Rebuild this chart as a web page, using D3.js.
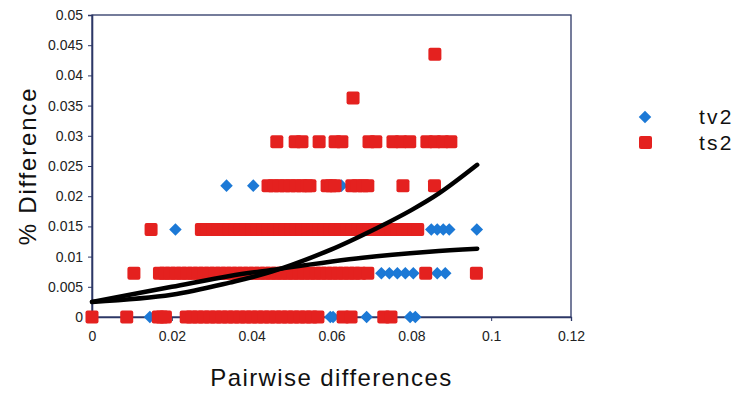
<!DOCTYPE html>
<html><head><meta charset="utf-8">
<script src="https://cdn.jsdelivr.net/npm/d3@7"></script>
<style>html,body{margin:0;padding:0;background:#fff;}svg{display:block;}</style>
</head><body>
<svg id="c" width="739" height="393"></svg>
<script>
// ---- data ----
const levels = [0, 0.00725, 0.0145, 0.02175, 0.029, 0.03625, 0.0435];
// tv2 x-values per level (index matches levels)
const tv2Rows = [
  [0.0145, 0.025, 0.035, 0.045, 0.055, 0.0597, 0.0604, 0.0688, 0.0797, 0.081],
  [0.0185, 0.025, 0.032, 0.039, 0.0463, 0.053, 0.06, 0.0725, 0.0745, 0.0765, 0.0785, 0.0805, 0.0865, 0.0885],
  [0.0209, 0.0295, 0.04, 0.05, 0.06, 0.07, 0.085, 0.0865, 0.088, 0.0895, 0.0964],
  [0.0337, 0.0404, 0.0625],
  [], [], []
];
// ts2 x-values per level
const ts2Rows = [
  [0, 0.0087, 0.0166, 0.0175, 0.0184, 0.0236, 0.025, 0.0265, 0.028, 0.0295, 0.031, 0.0325, 0.034, 0.0355, 0.037, 0.0385, 0.04, 0.0415, 0.043, 0.0445, 0.046, 0.0475, 0.049, 0.0505, 0.052, 0.0535, 0.055, 0.0566, 0.0629, 0.0649, 0.0731, 0.0749],
  [0.0105, 0.0169, 0.0182, 0.0196, 0.021, 0.0224, 0.0238, 0.0252, 0.0266, 0.028, 0.0294, 0.0308, 0.0322, 0.0336, 0.035, 0.0364, 0.0378, 0.0392, 0.0406, 0.042, 0.0434, 0.0448, 0.0462, 0.0476, 0.049, 0.0504, 0.0518, 0.0532, 0.0546, 0.056, 0.0574, 0.0588, 0.0602, 0.0616, 0.063, 0.0644, 0.0658, 0.0672, 0.0691, 0.0836, 0.0963],
  [0.0148, 0.0274, 0.0288, 0.0302, 0.0316, 0.033, 0.0344, 0.0358, 0.0372, 0.0386, 0.04, 0.0414, 0.0428, 0.0442, 0.0456, 0.047, 0.0484, 0.0498, 0.0512, 0.0526, 0.054, 0.0554, 0.0568, 0.0582, 0.0596, 0.061, 0.0624, 0.0638, 0.0652, 0.0666, 0.068, 0.0694, 0.0708, 0.0722, 0.0736, 0.075, 0.0764, 0.0778, 0.0792, 0.0806, 0.0816],
  [0.0441, 0.0455, 0.0469, 0.0483, 0.0497, 0.0511, 0.0525, 0.0539, 0.0546, 0.0589, 0.0599, 0.0609, 0.0651, 0.0665, 0.0679, 0.0691, 0.0779, 0.0858],
  [0.0463, 0.0509, 0.0526, 0.0569, 0.0609, 0.0626, 0.0694, 0.0711, 0.0754, 0.0774, 0.0796, 0.0839, 0.0859, 0.0879, 0.0899],
  [0.0654],
  [0.0859]
];
// trend lines
const steepX = [0, 0.02, 0.0345, 0.045, 0.06, 0.0713, 0.08, 0.087, 0.0965];
const steepY = [0.0025, 0.0037, 0.0057, 0.0075, 0.0112, 0.0147, 0.0177, 0.0205, 0.0252];
const shallowX = [0, 0.02, 0.0345, 0.045, 0.0678, 0.0845, 0.0965];
const shallowY = [0.0025, 0.005, 0.0068, 0.0078, 0.0098, 0.0108, 0.0113];
const xTicks = [0, 0.02, 0.04, 0.06, 0.08, 0.1, 0.12];
const xTickLabels = ["0", "0.02", "0.04", "0.06", "0.08", "0.1", "0.12"];
const yTicks = [0, 0.005, 0.01, 0.015, 0.02, 0.025, 0.03, 0.035, 0.04, 0.045, 0.05];
const yTickLabels = ["0", "0.005", "0.01", "0.015", "0.02", "0.025", "0.03", "0.035", "0.04", "0.045", "0.05"];
const seriesNames = ["tv2", "ts2"];

// ---- drawing ----
const svg = d3.select("#c");
const L = 92, R = 571, T = 15, B = 317;
const x = d3.scaleLinear().domain([0, 0.12]).range([L, R]);
const y = d3.scaleLinear().domain([0, 0.05]).range([B, T]);
const RED = "#e4211f", BLUE = "#1c79d6", AX = "#2c3766";
const FONT = "Liberation Sans, Arial, sans-serif";

// frame
svg.append("rect").attr("x", L).attr("y", T).attr("width", R - L).attr("height", B - T)
  .attr("fill", "none").attr("stroke", AX).attr("stroke-width", 1.3);

// y axis
const ya = svg.append("g").attr("transform", `translate(${L},0)`)
  .call(d3.axisLeft(y).tickValues(yTicks).tickSize(4).tickPadding(5)
    .tickFormat((d, i) => yTickLabels[i]));
ya.select(".domain").attr("stroke", AX).attr("stroke-width", 1.6);
ya.selectAll(".tick line").attr("stroke", AX);
ya.selectAll("text").attr("font-family", FONT).attr("font-size", 14).attr("fill", "#222");

// x axis
const xa = svg.append("g").attr("transform", `translate(0,${B})`)
  .call(d3.axisBottom(x).tickValues(xTicks).tickSize(4).tickPadding(10)
    .tickFormat((d, i) => xTickLabels[i]));
xa.select(".domain").attr("stroke", AX).attr("stroke-width", 1.3);
xa.selectAll(".tick line").attr("stroke", AX);
xa.selectAll("text").attr("font-family", FONT).attr("font-size", 14).attr("fill", "#222");

// points
const tv2Pts = [], ts2Pts = [];
tv2Rows.forEach((row, i) => row.forEach(v => tv2Pts.push([v, levels[i]])));
ts2Rows.forEach((row, i) => row.forEach(v => ts2Pts.push([v, levels[i]])));

const diamond = d3.symbol().type(d3.symbolDiamond2).size(100);
svg.append("g").selectAll("path").data(tv2Pts).join("path")
  .attr("d", diamond).attr("transform", d => `translate(${x(d[0])},${y(d[1])})`)
  .attr("fill", BLUE);

svg.append("g").selectAll("rect").data(ts2Pts).join("rect")
  .attr("x", d => x(d[0]) - 6.5).attr("y", d => y(d[1]) - 6.5)
  .attr("width", 13).attr("height", 13).attr("rx", 2)
  .attr("fill", RED);

// trend lines
const line = d3.line().x(d => x(d[0])).y(d => y(d[1])).curve(d3.curveCatmullRom.alpha(0.5));
svg.append("path").datum(steepX.map((v, i) => [v, steepY[i]]))
  .attr("d", line).attr("fill", "none").attr("stroke", "#000").attr("stroke-width", 4.5)
  .attr("stroke-linecap", "round");
svg.append("path").datum(shallowX.map((v, i) => [v, shallowY[i]]))
  .attr("d", line).attr("fill", "none").attr("stroke", "#000").attr("stroke-width", 4.5)
  .attr("stroke-linecap", "round");

// axis titles
svg.append("text").attr("x", (L + R) / 2).attr("y", 386).attr("text-anchor", "middle")
  .attr("font-family", FONT).attr("font-size", 24)
  .attr("letter-spacing", 1.4).attr("fill", "#111").text("Pairwise differences");
svg.append("text").attr("transform", `translate(36,${(T + B) / 2}) rotate(-90)`)
  .attr("text-anchor", "middle")
  .attr("font-family", FONT).attr("font-size", 24)
  .attr("letter-spacing", 1.8).attr("fill", "#111").text("% Difference");

// legend
const lg = svg.append("g");
lg.append("path").attr("d", diamond).attr("transform", "translate(645,117)").attr("fill", BLUE);
lg.append("rect").attr("x", 639).attr("y", 136).attr("width", 13).attr("height", 13).attr("rx", 2).attr("fill", RED);
lg.append("text").attr("x", 699).attr("y", 124).attr("font-family", FONT)
  .attr("font-size", 21).attr("letter-spacing", 2.2).attr("fill", "#111").text(seriesNames[0]);
lg.append("text").attr("x", 699).attr("y", 150).attr("font-family", FONT)
  .attr("font-size", 21).attr("letter-spacing", 2.2).attr("fill", "#111").text(seriesNames[1]);
</script>
</body></html>
